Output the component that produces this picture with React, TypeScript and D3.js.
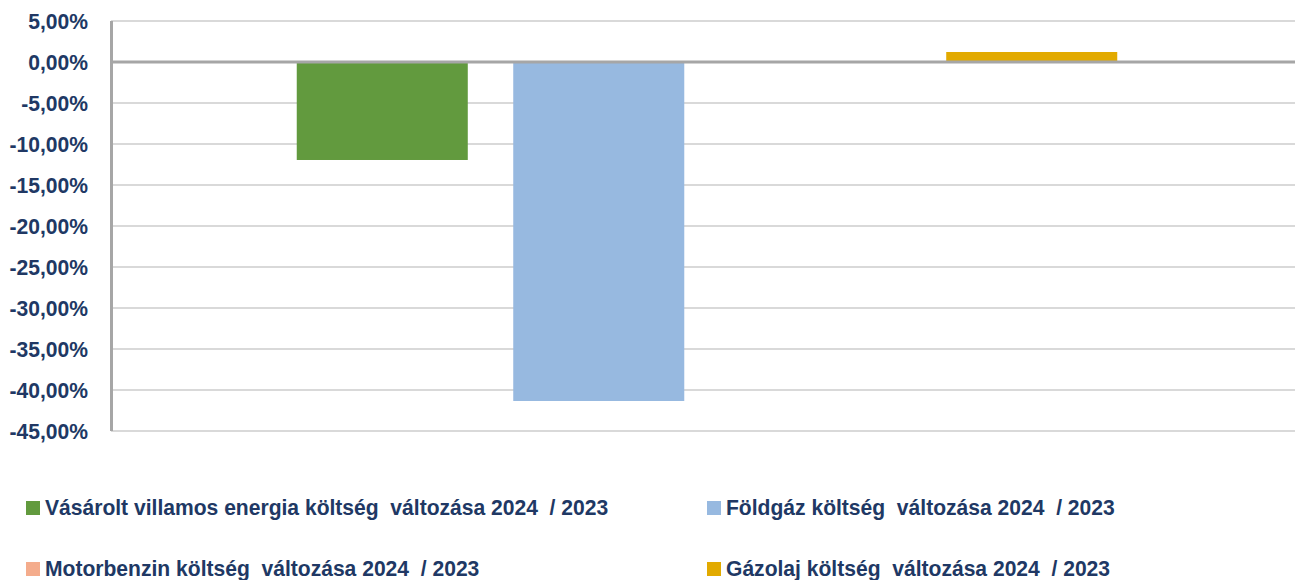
import { useEffect } from "react";
import * as d3 from "d3";

const seriesNames = [
  "Vásárolt villamos energia költség  változása 2024  / 2023",
  "Földgáz költség  változása 2024  / 2023",
  "Motorbenzin költség  változása 2024  / 2023",
  "Gázolaj költség  változása 2024  / 2023",
];
const seriesValues = [-0.1195, -0.4134, 0, 0.0122];
const seriesColors = ["#629A3E", "#97B9E0", "#F4AC8C", "#E2AA00"];
const yTicks = [0.05, 0, -0.05, -0.1, -0.15, -0.2, -0.25, -0.3, -0.35, -0.4, -0.45];

const width = 1295;
const height = 580;
const plot = { left: 111, right: 1303, top: 21, bottom: 431 };
const textColor = "#203864";
const font = "'Liberation Sans', Arial, sans-serif";
// Calibri-like narrowing of the substitute font
const squeeze = 0.958;

const fmt = (v: number) => (v * 100).toFixed(2).replace(".", ",") + "%";

export default function App() {
  useEffect(() => {
    document.body.style.margin = "0";
  }, []);

  const y = d3.scaleLinear().domain([-0.45, 0.05]).range([plot.bottom, plot.top]);
  const x = d3
    .scaleBand<string>()
    .domain(seriesNames)
    .range([plot.left, plot.right])
    .paddingInner(0.21)
    .paddingOuter(0.858);

  // legend: two columns, two rows
  const legendX = [26, 707];
  const legendY = [501, 562];

  return (
    <svg width={width} height={height} style={{ display: "block", background: "#fff" }}>
      {/* gridlines */}
      {yTicks
        .filter((t) => t !== 0)
        .map((t) => (
          <line
            key={t}
            x1={plot.left}
            x2={width}
            y1={y(t)}
            y2={y(t)}
            stroke="#D9D9D9"
            strokeWidth={2}
          />
        ))}

      {/* bars */}
      {seriesNames.map((s, i) => {
        const v = seriesValues[i];
        return (
          <rect
            key={s}
            x={x(s)}
            y={y(Math.max(0, v))}
            width={x.bandwidth()}
            height={Math.abs(y(v) - y(0))}
            fill={seriesColors[i]}
          />
        );
      })}

      {/* zero line */}
      <line x1={plot.left} x2={width} y1={y(0)} y2={y(0)} stroke="#A6A6A6" strokeWidth={3} />
      {/* vertical axis */}
      <line x1={plot.left + 0.5} x2={plot.left + 0.5} y1={plot.top} y2={plot.bottom} stroke="#A6A6A6" strokeWidth={3} />

      {/* tick labels */}
      {yTicks.map((t) => (
        <text
          key={t}
          transform={`translate(88,${y(t)}) scale(${squeeze},1)`}
          dy="0.35em"
          textAnchor="end"
          fill={textColor}
          fontFamily={font}
          fontWeight="bold"
          fontSize={22}
        >
          {fmt(t)}
        </text>
      ))}

      {/* legend */}
      {seriesNames.map((s, i) => {
        const lx = legendX[i % 2];
        const ly = legendY[Math.floor(i / 2)];
        return (
          <g key={s} transform={`translate(${lx},${ly})`}>
            <rect x={0} y={0} width={14} height={14} fill={seriesColors[i]} />
            <text
              transform={`translate(19,14) scale(${squeeze},1)`}
              fill={textColor}
              fontFamily={font}
              fontWeight="bold"
              fontSize={22}
              style={{ whiteSpace: "pre" }}
            >
              {s}
            </text>
          </g>
        );
      })}
    </svg>
  );
}
